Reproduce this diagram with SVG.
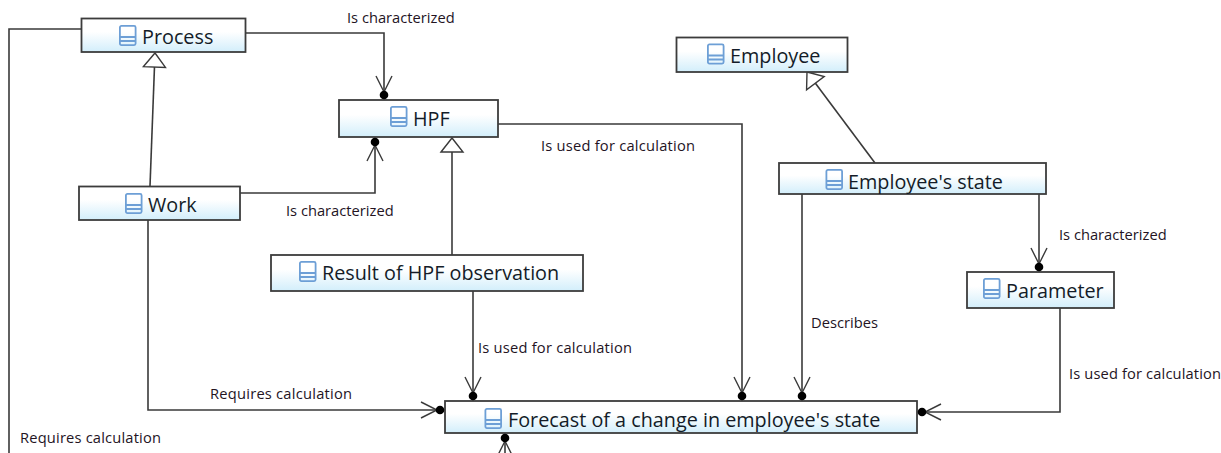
<svg xmlns="http://www.w3.org/2000/svg" width="1221" height="453" viewBox="0 0 1221 453">
<style>
.n{stroke:#3c3c3c;stroke-width:1.8;fill:url(#g)}
.t{font-family:"Open Sans","Noto Sans",sans-serif;font-size:19.8px;fill:#141c28}
.l{font-family:"Open Sans","Noto Sans",sans-serif;font-size:14.7px;fill:#24141f}
.c{fill:none;stroke:#3a3a3a;stroke-width:1.6}
.i{fill:none;stroke:#6d9fd6;stroke-width:1.8}
</style>
<defs>
<linearGradient id="g" x1="0" y1="0" x2="0" y2="1"><stop offset="0" stop-color="#fff"/><stop offset=".4" stop-color="#fff"/><stop offset="1" stop-color="#d2eefb"/></linearGradient>
<marker id="er" markerUnits="userSpaceOnUse" markerWidth="30" markerHeight="22" refX="25" refY="11" orient="auto" overflow="visible">
<path d="M1 3L17 11L1 19" fill="none" stroke="#3a3a3a" stroke-width="1.4"/><circle cx="20" cy="11" r="4.3" fill="#000"/>
</marker>
<marker id="tr" markerUnits="userSpaceOnUse" markerWidth="24" markerHeight="26" refX="15" refY="12" orient="auto" overflow="visible">
<path d="M1 1L15 12L1 23Z" fill="#fff" stroke="#3a3a3a" stroke-width="1.4"/>
</marker>
<g id="ic"><rect x=".9" y=".9" width="15.7" height="19.2" rx="1.5" class="i"/><path d="M1 12H16.500M1 16H16.500" class="i"/></g>
</defs>
<rect width="1221" height="453" fill="#fff"/>
<g id="connectors">
<path class="c" d="M81 29H9V453"/>
<path class="c" d="M245 33H384V100" marker-end="url(#er)"/>
<path class="c" d="M150 186L155 53" marker-end="url(#tr)"/>
<path class="c" d="M240 193H375V137" marker-end="url(#er)"/>
<path class="c" d="M452 255V138" marker-end="url(#tr)"/>
<path class="c" d="M498 124H742V401" marker-end="url(#er)"/>
<path class="c" d="M875 163L807 72" marker-end="url(#tr)"/>
<path class="c" d="M802 194V401" marker-end="url(#er)"/>
<path class="c" d="M1039 194V272" marker-end="url(#er)"/>
<path class="c" d="M1060 308V412H917" marker-end="url(#er)"/>
<path class="c" d="M473 291V401" marker-end="url(#er)"/>
<path class="c" d="M148 220V410H445" marker-end="url(#er)"/>
<path class="c" d="M505 461V433" marker-end="url(#er)"/>
</g>
<g id="process"><rect class="n" x="81.500" y="18.500" width="164" height="33.500"/><use href="#ic" x="119" y="25"/><text class="t" x="142" y="44">Process</text></g>
<g id="hpf"><rect class="n" x="339" y="100" width="159" height="37"/><use href="#ic" x="390" y="106"/><text class="t" x="413" y="125.500">HPF</text></g>
<g id="work"><rect class="n" x="79" y="186.500" width="161" height="33.500"/><use href="#ic" x="125" y="193"/><text class="t" x="148" y="212">Work</text></g>
<g id="employee"><rect class="n" x="676.500" y="37.500" width="171" height="34.500"/><use href="#ic" x="707" y="43.500"/><text class="t" x="730" y="63">Employee</text></g>
<g id="employee-state"><rect class="n" x="779" y="163" width="267" height="31"/><use href="#ic" x="825.500" y="169"/><text class="t" x="848" y="188.500">Employee's state</text></g>
<g id="result"><rect class="n" x="271" y="255" width="312" height="36"/><use href="#ic" x="299" y="261"/><text class="t" x="322" y="280">Result of HPF observation</text></g>
<g id="parameter"><rect class="n" x="967" y="272" width="147" height="36"/><use href="#ic" x="983" y="278"/><text class="t" x="1006" y="297.500">Parameter</text></g>
<g id="forecast"><rect class="n" x="445" y="401" width="472" height="32"/><use href="#ic" x="484.500" y="408"/><text class="t" x="508" y="426.500">Forecast of a change in employee's state</text></g>
<g id="labels">
<text class="l" x="347" y="23">Is characterized</text>
<text class="l" x="286" y="216">Is characterized</text>
<text class="l" x="541" y="150.500" textLength="154">Is used for calculation</text>
<text class="l" x="1059" y="240">Is characterized</text>
<text class="l" x="811" y="328">Describes</text>
<text class="l" x="478" y="352.500" textLength="154">Is used for calculation</text>
<text class="l" x="1069" y="378.500" textLength="152">Is used for calculation</text>
<text class="l" x="210" y="399" textLength="142">Requires calculation</text>
<text class="l" x="20" y="442.500" textLength="141">Requires calculation</text>
</g>
</svg>
